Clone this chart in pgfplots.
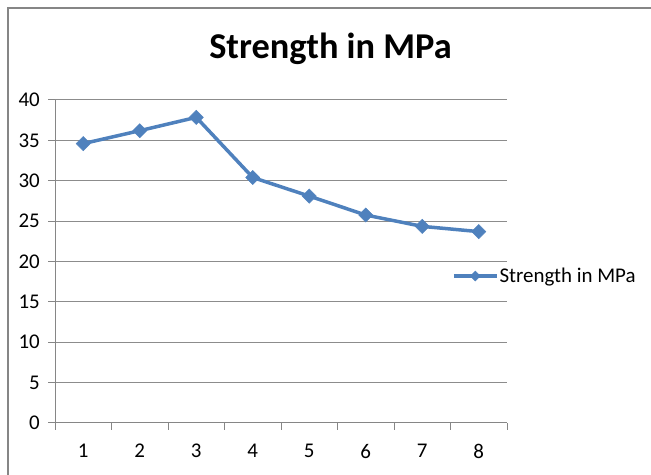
\documentclass[border=0pt]{standalone}
\usepackage{fontspec}
\setmainfont{Carlito}
\usepackage{pgfplots}
\pgfplotsset{compat=1.18}
\definecolor{axgray}{HTML}{868686}
\definecolor{gridgray}{HTML}{8C8C8C}
\definecolor{serblue}{HTML}{4F81BD}
\begin{document}
\begin{tikzpicture}[x=1bp,y=1bp]
\useasboundingbox (0,0) rectangle (651,475);
\begin{scope}
\clip (0,0) rectangle (651,475);
\draw[color=axgray, line width=2.5bp] (8,-5) -- (8,467) -- (700,467);
\end{scope}
\node[font=\fontsize{36.5}{40}\selectfont\bfseries, anchor=base, inner sep=0pt] at (330.5,416) {Strength in MPa};
\begin{axis}[
  at={(55bp,52bp)}, anchor=south west,
  scale only axis, width=452bp, height=323bp,
  xmin=-0.5, xmax=7.5, ymin=0, ymax=40,
  xtick={0,...,7}, xticklabels={1,2,3,4,5,6,7,8},
  minor xtick={-0.5,0.5,...,7.5},
  ytick={0,5,...,40},
  axis x line*=bottom, axis y line*=left,
  axis line style={axgray, line width=1bp, -},
  ymajorgrids, grid style={gridgray, line width=1bp},
  tick align=outside, major tick length=7bp, minor tick length=7bp,
  tick style={axgray, line width=1bp},
  major x tick style={draw=none},
  /pgf/number format/assume math mode=true,
  ticklabel style={font=\fontsize{21}{25}\selectfont},
  yticklabel style={inner sep=0pt, xshift=-8bp},
  xticklabel style={inner sep=0pt, yshift=-14bp},
  legend style={at={(0.878,0.455)}, anchor=west, draw=none, fill=none, inner sep=0pt,
    font=\fontsize{21}{25}\selectfont, nodes={inner sep=1bp}},
  legend image code/.code={\draw[mark repeat=2,mark phase=2,#1, mark size=3.5bp] plot coordinates {(0bp,0bp) (21.5bp,0bp) (43bp,0bp)};},
]
\addplot[serblue, line width=3.5bp, mark=square*, mark size=5bp,
  mark options={rotate=45, fill=serblue, draw=serblue, line width=0.5bp}]
  coordinates {(0,34.6) (1,36.2) (2,37.85) (3,30.4) (4,28.1) (5,25.75) (6,24.35) (7,23.7)};
\addlegendentry{Strength in MPa}
\end{axis}
\end{tikzpicture}
\end{document}
